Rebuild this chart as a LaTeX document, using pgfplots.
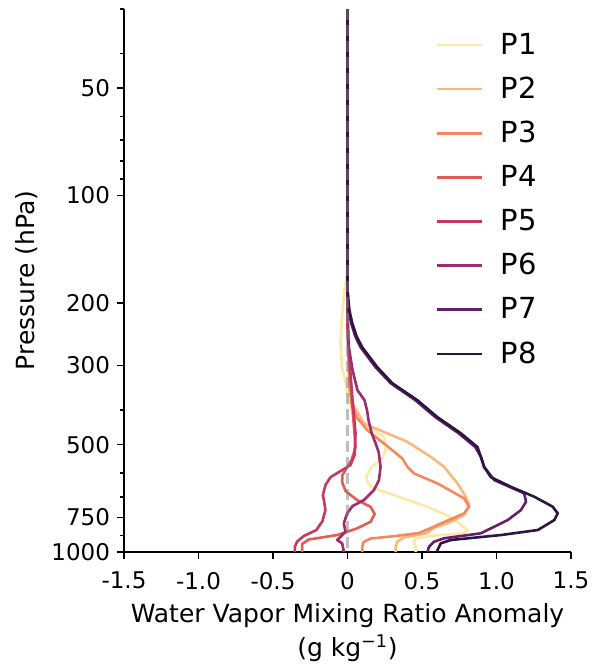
\documentclass[border=0pt]{standalone}
\usepackage{fontspec}
\setmainfont{DejaVu Sans}
\usepackage{pgfplots}
\pgfplotsset{compat=1.18}
\definecolor{c1}{HTML}{FDE8A8}
\definecolor{c2}{HTML}{FCB77A}
\definecolor{c3}{HTML}{F5885E}
\definecolor{c4}{HTML}{E45B54}
\definecolor{c5}{HTML}{C43A5E}
\definecolor{c6}{HTML}{9E2C6E}
\definecolor{c7}{HTML}{651E6C}
\definecolor{c8}{HTML}{2C1541}
\begin{document}
\begin{tikzpicture}
\begin{axis}[
  scale only axis, width=223.5pt, height=271.5pt,
  xmin=-1.5, xmax=1.5, ymin=30, ymax=1000,
  ymode=log, y dir=reverse,
  axis x line*=bottom, axis y line*=left,
  axis line style={line width=0.8pt, -},
  xtick={-1.5,-1,-0.5,0,0.5,1,1.5},
  xticklabels={-1.5,-1.0,-0.5,0,0.5,1.0,1.5},
  ytick={50,100,200,300,500,800,1000},
  yticklabels={50,100,200,300,500,750,1000},
  minor ytick={30,40,60,70,80,90,400,600,700,900},
  tick align=outside,
  major tick length=3.5pt, minor tick length=2pt,
  tick style={line width=0.8pt, black},
  ticklabel style={font=\fontsize{11.5}{13}\selectfont},
  xticklabel style={yshift=-3pt},
  xlabel={Water Vapor Mixing Ratio Anomaly\\(g kg\textsuperscript{−1})},
  ylabel={Pressure (hPa)},
  label style={font=\fontsize{12.5}{17}\selectfont},
  xlabel style={align=center},
  every axis plot/.append style={line width=1.3pt, line join=round},
  legend cell align=left,
  legend style={draw=none, fill=none, inner sep=0pt, outer sep=0pt,
    at={(axis description cs:0.698,0.956)}, anchor=north west,
    font=\fontsize{14.5}{17}\selectfont, row sep=9.9pt,
    nodes={inner sep=0pt}},
  legend image code/.code={\draw[#1] (0pt,0pt) -- (22.5pt,0pt); \path (31pt,0pt);},
]
\addplot[c1] coordinates {(0,30) (0,162) (-0.020,184.5) (-0.037,218.3) (-0.047,259.8) (-0.037,303.2) (-0.013,336.3) (0.009,375.2) (0.034,410.7) (0.101,438.0) (0.168,452.4) (0.244,475.4) (0.259,507.0) (0.236,545.4) (0.155,581.7) (0.124,616.6) (0.141,645.1) (0.177,663.3) (0.312,692.3) (0.536,746.7) (0.693,798.0) (0.806,867.7) (0.783,886.3) (0.581,899.0) (0.458,915.3) (0.446,937.5) (0.458,968.2) (0.458,1000)};
\addlegendentry{P1}
\addplot[c2] coordinates {(0,30) (0,238.8) (0.013,351.8) (0.040,387.5) (0.067,405.4) (0.110,436.0) (0.244,460.3) (0.402,490.9) (0.559,540.9) (0.648,576.9) (0.738,642.2) (0.794,700.0) (0.816,738.5) (0.781,787.8) (0.671,831.1) (0.581,853.8) (0.536,884.7) (0.379,910.7) (0.334,935.6) (0.323,966.4) (0.323,1000)};
\addlegendentry{P2}
\addplot[c3] coordinates {(0,30) (0,238.8) (0.013,329.8) (0.027,382.5) (0.061,418.7) (0.133,455.3) (0.244,496.0) (0.368,546.4) (0.402,576.9) (0.446,602.0) (0.604,642.2) (0.783,707.3) (0.816,746.7) (0.783,779.2) (0.671,816.2) (0.559,856.5) (0.478,884.7) (0.323,901.9) (0.155,916.6) (0.108,937.5) (0.099,966.4) (0.099,1000)};
\addlegendentry{P3}
\addplot[c4] coordinates {(0,30) (0,238.8) (0.020,329.8) (0.040,426.8) (0.054,508.0) (0.027,552.5) (-0.002,578.0) (-0.034,608.6) (-0.036,636.8) (-0.013,675.0) (0.065,715.0) (0.155,746.7) (0.182,782.7) (0.155,822.5) (0.065,858.1) (-0.069,896.1) (-0.260,922.5) (-0.305,949.6) (-0.305,1000)};
\addlegendentry{P4}
\addplot[c5] coordinates {(0,30) (0,223.9) (0.013,289.9) (0.034,375.2) (0.054,464.2) (0.047,534.9) (0.020,570.5) (-0.036,589.2) (-0.114,616.6) (-0.148,649.3) (-0.165,692.3) (-0.155,729.1) (-0.148,762.8) (-0.168,818.9) (-0.209,867.7) (-0.294,901.9) (-0.339,935.6) (-0.353,966.4) (-0.353,1000)};
\addlegendentry{P5}
\addplot[c6] coordinates {(0,30) (0,196.8) (0.007,263.2) (0.034,309.2) (0.067,351.8) (0.114,375.2) (0.131,400.2) (0.141,426.8) (0.162,464.2) (0.188,495.1) (0.209,524.8) (0.222,576.9) (0.211,628.6) (0.177,670.6) (0.110,715.0) (0.034,743.3) (-0.002,779.2) (-0.025,831.1) (-0.013,877.2) (-0.047,906.0) (-0.069,925.5) (-0.036,945.3) (-0.027,987.2) (-0.027,1000)};
\addlegendentry{P6}
\addplot[c7] coordinates {(0,30) (0,184.5) (0.008,210) (0.025,228.3) (0.052,248.3) (0.088,266.6) (0.188,303.2) (0.290,336.3) (0.455,375.2) (0.590,418.7) (0.745,464.2) (0.858,508.0) (0.895,540.9) (0.917,576.9) (0.985,628.6) (1.186,684.7) (1.198,722.9) (1.164,762.8) (1.075,813.6) (0.895,886.3) (0.648,915.3) (0.581,935.6) (0.547,966.4) (0.540,987.2) (0.540,1000)};
\addlegendentry{P7}
\addplot[c8] coordinates {(0,30) (0,184.5) (0.013,210) (0.032,228.3) (0.061,248.3) (0.099,266.6) (0.200,303.2) (0.301,336.3) (0.469,375.2) (0.604,418.7) (0.760,464.2) (0.873,508.0) (0.906,558.6) (0.917,578.0) (0.962,616.6) (1.097,656.5) (1.254,700.0) (1.378,746.7) (1.411,779.2) (1.388,813.6) (1.277,867.7) (1.030,896.1) (0.693,925.5) (0.626,945.3) (0.604,987.2) (0.604,1000)};
\addlegendentry{P8}
\addplot[gray, opacity=0.5, line width=1.4pt, dash pattern=on 5.5pt off 2.5pt, forget plot] coordinates {(0,30) (0,1000)};
\coordinate (bl) at (rel axis cs:0,0);
\coordinate (tr) at (rel axis cs:1,1);
\end{axis}
\pgfresetboundingbox
\useasboundingbox ([xshift=-62pt,yshift=-58pt]bl) rectangle ([xshift=11.5pt,yshift=4.5pt]tr);
\end{tikzpicture}
\end{document}
